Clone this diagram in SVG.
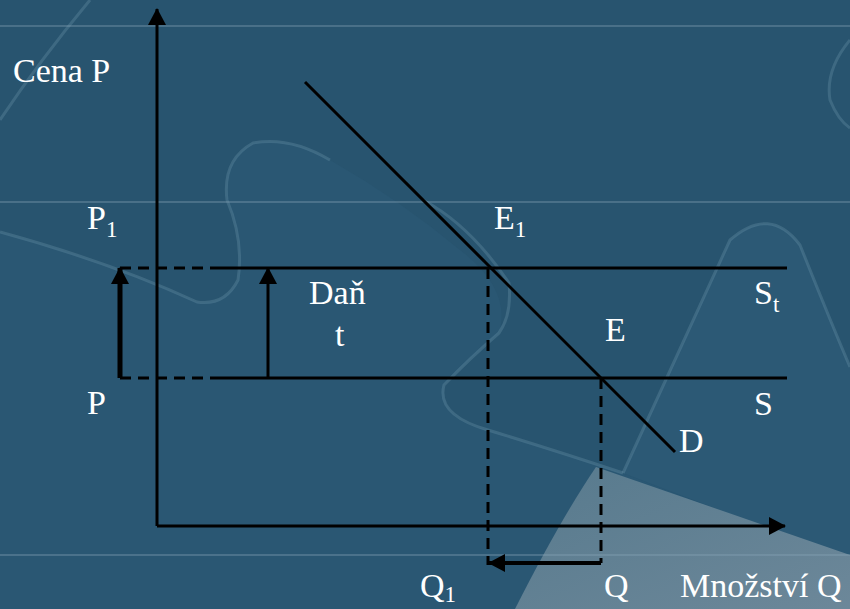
<svg xmlns="http://www.w3.org/2000/svg" width="850" height="609" viewBox="0 0 850 609">
<defs>
<style>
text{font-family:"Liberation Serif","Times New Roman","DejaVu Serif",serif}
.lbl{font-size:34px;fill:#ffffff}
.sub{font-size:23px}
.ln{stroke:#000;stroke-width:3;fill:none}
.dash{stroke:#000;stroke-width:3;fill:none;stroke-dasharray:11 7}
.deco{fill:none;stroke:#8fb4c8;stroke-opacity:0.22;stroke-width:3}
.hl{stroke:#8aa6b8;stroke-width:1;stroke-opacity:0.7}
</style>
<marker id="ah" viewBox="0 0 17 18" refX="16" refY="9" markerWidth="17" markerHeight="18" markerUnits="userSpaceOnUse" orient="auto">
<path d="M0,0 L17,9 L0,18 Z" fill="#000"/>
</marker>
<linearGradient id="wedge" x1="0" y1="0" x2="1" y2="1">
<stop offset="0" stop-color="#5f8092"/>
<stop offset="1" stop-color="#7890a0"/>
</linearGradient>
</defs>
<g id="background">
<rect x="0" y="0" width="850" height="609" fill="#28546f"/>
<path d="M0,232 Q110,262 197,302 Q225,306 238,280 Q244,240 227,200 Q222,160 253,143 Q290,136 330,160 Q400,200 460,250 Q512,290 499,333 Q470,358 444,385 Q440,420 488,430 Q560,452 623,473 L850,560 L850,609 L0,609 Z" fill="#2a5773"/>
<path d="M623,473 Q680,350 730,240 Q770,205 800,245 Q830,320 850,367 L850,560 Z" fill="#2c5975"/>
<path d="M515,609 Q560,520 596,467 L850,555 L850,609 Z" fill="url(#wedge)" opacity="0.85"/>
<path class="deco" d="M0,232 Q110,262 197,302 Q225,306 238,280 Q244,240 227,200 Q222,160 253,143 Q290,136 330,160"/>
<path class="deco" d="M423,200 Q470,225 509,283 Q512,315 499,333 Q470,358 444,385 Q436,415 488,430 Q560,452 623,473"/>
<path class="deco" d="M623,473 Q680,350 730,240 Q770,205 800,245 Q830,320 850,367"/>
<path class="deco" d="M850,40 Q825,70 830,100 Q838,120 850,128"/>
<path class="deco" d="M0,120 Q40,60 90,0" stroke-opacity="0.12"/>
<line class="hl" x1="0" y1="26" x2="850" y2="26"/>
<line class="hl" x1="0" y1="202" x2="850" y2="202"/>
<line class="hl" x1="0" y1="555" x2="850" y2="555"/>
</g>
<g id="connectors">
<line id="y-axis" class="ln" x1="157" y1="526" x2="157" y2="9" marker-end="url(#ah)"/>
<line id="x-axis" class="ln" x1="157" y1="526" x2="785" y2="526" marker-end="url(#ah)"/>
<line id="St-dash" class="dash" x1="120" y1="268" x2="220" y2="268"/>
<line id="St" class="ln" x1="220" y1="268" x2="787" y2="268"/>
<line id="S-dash" class="dash" x1="120" y1="378" x2="220" y2="378"/>
<line id="S" class="ln" x1="220" y1="378" x2="787" y2="378"/>
<line id="D" class="ln" x1="305" y1="82" x2="675" y2="452"/>
<line id="Q1-drop" class="dash" x1="488" y1="268" x2="488" y2="565"/>
<line id="Q-drop" class="dash" x1="601" y1="378" x2="601" y2="563"/>
<line id="price-rise" stroke="#000" stroke-width="5" x1="120" y1="378" x2="120" y2="268" marker-end="url(#ah)"/>
<line id="tax" class="ln" x1="268" y1="378" x2="268" y2="268" marker-end="url(#ah)"/>
<line id="qty-drop" stroke="#000" stroke-width="4" x1="601" y1="563" x2="489" y2="563" marker-end="url(#ah)"/>
</g>
<g id="labels" font-family="Liberation Serif, serif">
<text id="cena" class="lbl" x="13" y="82">Cena P</text>
<text id="p1" class="lbl" x="87" y="229">P<tspan class="sub" dy="8">1</tspan></text>
<text id="p" class="lbl" x="87" y="414">P</text>
<text id="e1" class="lbl" x="494" y="229">E<tspan class="sub" dy="8">1</tspan></text>
<text id="dan" class="lbl" x="309" y="304">Daň</text>
<text id="t" class="lbl" x="335" y="346">t</text>
<text id="e" class="lbl" x="605" y="341">E</text>
<text id="st" class="lbl" x="754" y="304">S<tspan class="sub" dy="8">t</tspan></text>
<text id="s" class="lbl" x="754" y="415">S</text>
<text id="d" class="lbl" x="679" y="452">D</text>
<text id="q1" class="lbl" x="420" y="597">Q<tspan class="sub" dy="5">1</tspan></text>
<text id="q" class="lbl" x="604" y="597">Q</text>
<text id="mnozstvi" class="lbl" x="680" y="597">Množství Q</text>
</g>
</svg>
